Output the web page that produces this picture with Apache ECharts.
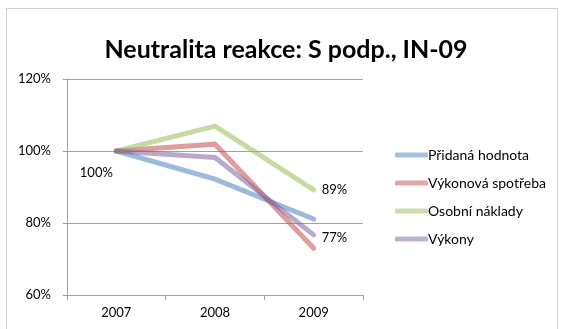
<!DOCTYPE html>
<html>
<head>
<meta charset="utf-8">
<script src="https://cdn.jsdelivr.net/npm/echarts@6/dist/echarts.min.js"></script>
<style>
  html, body { margin: 0; padding: 0; background: #fff; }
  #chart { width: 563px; height: 329px; }
</style>
</head>
<body>
<div id="chart"></div>
<script>
// Index values relative to 2007 (percent)
const years = ['2007', '2008', '2009'];
const pridanaHodnota = [100, 92.2, 81.1];
const vykonovaSpotreba = [100, 101.9, 73.0];
const osobniNaklady = [100, 106.9, 89.2];
const vykony = [100, 98.2, 76.7];
const yTicks = [60, 80, 100, 120];

const FONT = 'Lato, "Open Sans", sans-serif';
const chart = echarts.init(document.getElementById('chart'));

function lineSeries(name, data, color, labelIndex, labelOpts) {
  return {
    name: name,
    type: 'line',
    data: data.map((v, i) => {
      if (i === labelIndex) {
        return {
          value: v,
          label: Object.assign({
            show: true,
            formatter: p => Math.round(p.value) + '%',
            color: '#000',
            fontFamily: FONT,
            fontSize: 13
          }, labelOpts)
        };
      }
      return v;
    }),
    symbol: 'circle',
    symbolSize: 0.1,
    showSymbol: true,
    itemStyle: { color: color, borderWidth: 0 },
    lineStyle: { color: color, width: 5, opacity: 0.55, cap: 'round', join: 'miter' },
    label: { show: false },
    emphasis: { disabled: true },
    z: 2
  };
}

chart.setOption({
  animation: false,
  title: {
    text: 'Neutralita reakce: S podp., IN-09',
    left: 281,
    textAlign: 'center',
    top: 32,
    textStyle: { fontFamily: FONT, fontSize: 25, fontWeight: 'bold', color: '#000' }
  },
  legend: {
    orient: 'vertical',
    left: 390,
    top: 143,
    itemWidth: 33,
    itemHeight: 5,
    itemGap: 14,
    icon: 'roundRect',
    itemStyle: { opacity: 0.5 },
    textStyle: { fontFamily: FONT, fontSize: 14, color: '#000', padding: [0, 0, 0, -5] },
    data: ['Přidaná hodnota', 'Výkonová spotřeba', 'Osobní náklady', 'Výkony']
  },
  grid: { left: 67, right: 200, top: 79, bottom: 34 },
  xAxis: {
    type: 'category',
    data: years,
    boundaryGap: true,
    axisLine: { lineStyle: { color: '#a0a0a0', width: 1 } },
    axisTick: { show: true, length: 5, lineStyle: { color: '#a0a0a0' } },
    axisLabel: { fontFamily: FONT, fontSize: 13, color: '#000', margin: 11 }
  },
  yAxis: {
    type: 'value',
    min: yTicks[0],
    max: yTicks[yTicks.length - 1],
    interval: 20,
    axisLine: { show: true, lineStyle: { color: '#a0a0a0', width: 1 } },
    axisTick: { show: true, length: 4, lineStyle: { color: '#a0a0a0' } },
    splitLine: { show: true, lineStyle: { color: '#a0a0a0', width: 1 } },
    axisLabel: {
      fontFamily: FONT, fontSize: 13, color: '#000', margin: 16,
      formatter: v => v + '%'
    }
  },
  series: [
    lineSeries('Přidaná hodnota', pridanaHodnota, '#4F81BD', 0, { position: 'bottom', offset: [-20, 10] }),
    lineSeries('Výkonová spotřeba', vykonovaSpotreba, '#C0504D', -1, {}),
    lineSeries('Osobní náklady', osobniNaklady, '#9BBB59', 2, { position: 'right', distance: 8 }),
    lineSeries('Výkony', vykony, '#8064A2', 2, { position: 'right', distance: 8, offset: [0, 3] })
  ],
  graphic: [{
    type: 'rect',
    shape: { x: 6.5, y: 8.5, width: 551, height: 330 },
    style: { fill: 'none', stroke: '#d0d0d0', lineWidth: 1 },
    silent: true
  }]
});
</script>
</body>
</html>
